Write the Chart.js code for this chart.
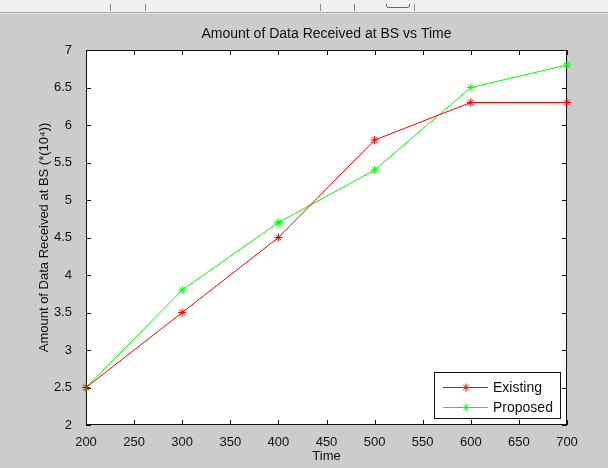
<!DOCTYPE html>
<html>
<head>
<meta charset="utf-8">
<script src="https://cdn.jsdelivr.net/npm/chart.js@4.4.1/dist/chart.umd.min.js"></script>
<style>
  html, body { margin: 0; padding: 0; background: #cccccc; overflow: hidden; }
  #wrap { width: 608px; height: 468px; position: relative; }
</style>
</head>
<body>
<div id="wrap"><canvas id="chart-data-received"></canvas></div>
<script>
// chart data
const times = [200, 300, 400, 500, 600, 700];
const existingValues = [2.5, 3.5, 4.5, 5.8, 6.3, 6.3];
const proposedValues = [2.5, 3.8, 4.7, 5.4, 6.5, 6.8];
const seriesNames = ["Existing", "Proposed"];
const chartTitle = "Amount of Data Received at BS vs Time";
const xTitle = "Time";
const yTitle = "Amount of Data Received at BS (*(10\u2074))";

const FONT = "'Liberation Sans', Arial, Helvetica, sans-serif";

function toPoints(xs, ys) {
  return xs.map((x, i) => ({ x: x, y: ys[i] }));
}

function drawStar(ctx, x, y, r, color) {
  if (Chart.helpers && Chart.helpers.drawPoint) {
    ctx.strokeStyle = color;
    ctx.fillStyle = color;
    Chart.helpers.drawPoint(ctx, { pointStyle: "star", radius: r, borderWidth: 1, rotation: 0 }, x, y);
  }
}

// figure background, white axes, box with inward ticks, title and legend
const matlabLook = {
  id: "matlabLook",
  beforeDraw(chart) {
    const ctx = chart.ctx;
    const a = chart.chartArea;
    ctx.save();
    ctx.fillStyle = "#cccccc";
    ctx.fillRect(0, 0, chart.width, chart.height);

    // toolbar remnant at the top
    ctx.fillStyle = "#f0f0f0";
    ctx.fillRect(0, 0, chart.width, 12);
    ctx.fillStyle = "#a8a8a8";
    ctx.fillRect(0, 12, chart.width, 1);
    ctx.fillStyle = "#e4e4e4";
    ctx.fillRect(0, 13, chart.width, 1);
    ctx.strokeStyle = "#8a8a8a";
    ctx.lineWidth = 1;
    [110, 145, 320, 354, 414].forEach((sx) => {
      ctx.beginPath();
      ctx.moveTo(sx + 0.5, 4);
      ctx.lineTo(sx + 0.5, 11);
      ctx.stroke();
    });
    ctx.strokeStyle = "#666666";
    ctx.beginPath();
    ctx.moveTo(386.5, 4);
    ctx.lineTo(386.5, 6);
    ctx.quadraticCurveTo(386.5, 7.5, 389, 7.5);
    ctx.lineTo(407, 7.5);
    ctx.quadraticCurveTo(409.5, 7.5, 409.5, 6);
    ctx.lineTo(409.5, 4);
    ctx.stroke();

    ctx.fillStyle = "#ffffff";
    ctx.fillRect(a.left, a.top, a.right - a.left, a.bottom - a.top);
    ctx.restore();
  },
  beforeDatasetsDraw(chart) {
    const ctx = chart.ctx;
    const a = chart.chartArea;
    const xs = chart.scales.x;
    const ys = chart.scales.y;
    const tick = 5;
    ctx.save();
    ctx.strokeStyle = "#111111";
    ctx.lineWidth = 1;
    ctx.beginPath();
    xs.ticks.forEach((t) => {
      const px = Math.round(xs.getPixelForValue(t.value)) + 0.5;
      ctx.moveTo(px, a.bottom);
      ctx.lineTo(px, a.bottom - tick);
      ctx.moveTo(px, a.top);
      ctx.lineTo(px, a.top + tick);
    });
    ys.ticks.forEach((t) => {
      const py = Math.round(ys.getPixelForValue(t.value)) + 0.5;
      ctx.moveTo(a.left, py);
      ctx.lineTo(a.left + tick, py);
      ctx.moveTo(a.right, py);
      ctx.lineTo(a.right - tick, py);
    });
    ctx.stroke();
    ctx.strokeRect(a.left + 0.5, a.top + 0.5, a.right - a.left - 1, a.bottom - a.top - 1);
    ctx.restore();
  },
  afterDraw(chart) {
    const ctx = chart.ctx;
    const a = chart.chartArea;
    ctx.save();
    // title
    ctx.fillStyle = "#111111";
    ctx.font = "14px " + FONT;
    ctx.textAlign = "center";
    ctx.textBaseline = "middle";
    ctx.fillText(chartTitle, (a.left + a.right) / 2, 34);

    // legend in the lower right corner
    const box = { x: 434.5, y: 372.5, w: 126, h: 46 };
    ctx.fillStyle = "#ffffff";
    ctx.fillRect(box.x, box.y, box.w, box.h);
    ctx.strokeStyle = "#111111";
    ctx.lineWidth = 1;
    ctx.strokeRect(box.x, box.y, box.w, box.h);
    chart.data.datasets.forEach((ds, i) => {
      const ly = 387 + i * 20;
      ctx.strokeStyle = ds.borderColor;
      ctx.beginPath();
      ctx.moveTo(443, ly + 0.5);
      ctx.lineTo(488, ly + 0.5);
      ctx.stroke();
      drawStar(ctx, 466, ly + 0.5, 4, ds.borderColor);
      ctx.fillStyle = "#111111";
      ctx.font = "14px " + FONT;
      ctx.textAlign = "left";
      ctx.textBaseline = "middle";
      ctx.fillText(ds.label, 493, ly + 1);
    });
    ctx.restore();
  },
};

const ctx = document.getElementById("chart-data-received").getContext("2d");
const chartDataReceived = new Chart(ctx, {
  type: "line",
  data: {
    datasets: [
      {
        label: seriesNames[0],
        data: toPoints(times, existingValues),
        borderColor: "#ff0000",
        backgroundColor: "#ff0000",
        borderWidth: 1,
        pointStyle: "star",
        pointRadius: 4,
        pointBorderWidth: 1,
        tension: 0,
        clip: false,
      },
      {
        label: seriesNames[1],
        data: toPoints(times, proposedValues),
        borderColor: "#00ff00",
        backgroundColor: "#00ff00",
        borderWidth: 1,
        pointStyle: "star",
        pointRadius: 4,
        pointBorderWidth: 1,
        tension: 0,
        clip: false,
      },
    ],
  },
  options: {
    responsive: true,
    maintainAspectRatio: false,
    devicePixelRatio: 1,
    animation: false,
    layout: {
      padding: { top: 50, right: 41, left: 0, bottom: 0 },
    },
    plugins: {
      legend: { display: false },
      title: { display: false },
      tooltip: { enabled: false },
    },
    scales: {
      x: {
        type: "linear",
        min: 200,
        max: 700,
        grid: { display: false },
        border: { display: false },
        ticks: {
          stepSize: 50,
          padding: 2,
          color: "#111111",
          font: { family: FONT, size: 13 },
          callback: (value) => String(value),
        },
        title: {
          display: true,
          text: xTitle,
          color: "#111111",
          font: { family: FONT, size: 13 },
          padding: { top: 0, bottom: 4 },
        },
        afterFit: (scale) => {
          scale.height = 43;
        },
      },
      y: {
        type: "linear",
        min: 2,
        max: 7,
        grid: { display: false },
        border: { display: false },
        ticks: {
          stepSize: 0.5,
          padding: 6,
          color: "#111111",
          font: { family: FONT, size: 13 },
          callback: (value) => String(value),
        },
        title: {
          display: true,
          text: yTitle,
          color: "#111111",
          font: { family: FONT, size: 13 },
          padding: { top: 37, bottom: 0 },
        },
        afterFit: (scale) => {
          scale.width = 86;
        },
      },
    },
  },
  plugins: [matlabLook],
});
</script>
</body>
</html>
